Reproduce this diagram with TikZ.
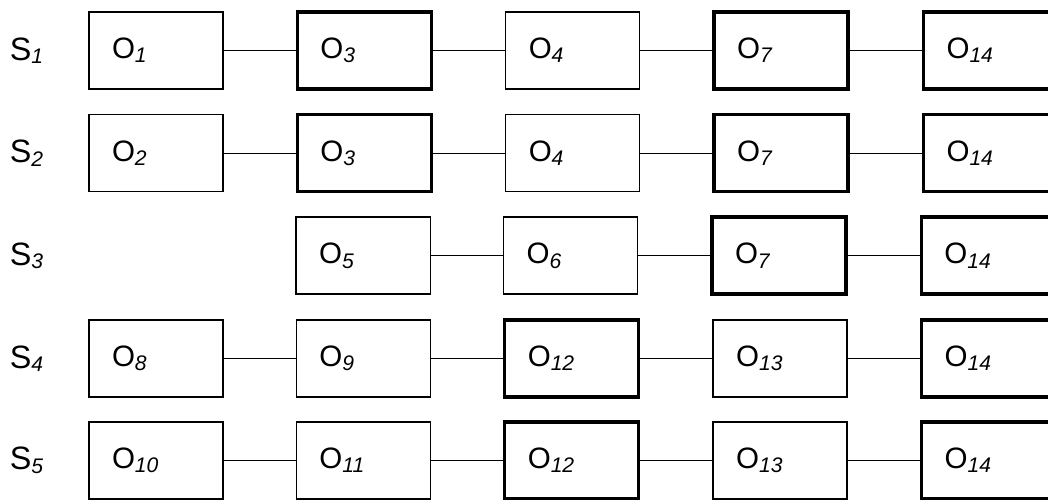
\documentclass[tikz,border=0pt]{standalone}
\usepackage{fontspec}
\setmainfont{Liberation Sans}
\usepackage{tikz}
\usetikzlibrary{positioning}
\newcommand{\op}[1]{O\raisebox{-3.2pt}{\fontsize{15}{17}\selectfont\itshape #1}}
\newcommand{\seqlab}[1]{S\raisebox{-2.4pt}{\fontsize{15}{17}\selectfont\itshape #1}}

\begin{document}
\begin{tikzpicture}[
    opbox/.style={draw,line width=1pt,minimum height=1.925cm,text width=2.2cm,
      inner xsep=0.575cm,align=left,font=\fontsize{21}{24}\selectfont},
    keybox/.style={opbox,line width=2.4pt},
    seqname/.style={inner sep=0pt,font=\fontsize{23}{25}\selectfont},
    link/.style={line width=0.9pt}
  ]
    \clip (0,0) rectangle (26.2,-12.5);

    % sequence labels
    \node[seqname] (s1) at (0.66,-1.26) {\seqlab{1}};
    \node[seqname] (s2) at (0.66,-3.83) {\seqlab{2}};
    \node[seqname] (s3) at (0.66,-6.39) {\seqlab{3}};
    \node[seqname] (s4) at (0.66,-8.96) {\seqlab{4}};
    \node[seqname] (s5) at (0.66,-11.51) {\seqlab{5}};

    % row 1
    \node[opbox] (r1c1) at (3.9,-1.26) {\op{1}};
    \node[keybox,right=1.8cm of r1c1] (r1c2) {\op{3}};
    \node[opbox,right=1.8cm of r1c2] (r1c3) {\op{4}};
    \node[keybox,right=1.8cm of r1c3] (r1c4) {\op{7}};
    \node[keybox,right=1.8cm of r1c4] (r1c5) {\op{14}};

    % row 2
    \node[opbox] (r2c1) at (3.9,-3.83) {\op{2}};
    \node[keybox,right=1.8cm of r2c1] (r2c2) {\op{3}};
    \node[opbox,right=1.8cm of r2c2] (r2c3) {\op{4}};
    \node[keybox,right=1.8cm of r2c3] (r2c4) {\op{7}};
    \node[keybox,right=1.8cm of r2c4] (r2c5) {\op{14}};

    % row 3
    \node[opbox] (r3c2) at (9.08,-6.39) {\op{5}};
    \node[opbox,right=1.8cm of r3c2] (r3c3) {\op{6}};
    \node[keybox,right=1.8cm of r3c3] (r3c4) {\op{7}};
    \node[keybox,right=1.8cm of r3c4] (r3c5) {\op{14}};

    % row 4
    \node[opbox] (r4c1) at (3.9,-8.96) {\op{8}};
    \node[opbox,right=1.8cm of r4c1] (r4c2) {\op{9}};
    \node[keybox,right=1.8cm of r4c2] (r4c3) {\op{12}};
    \node[opbox,right=1.8cm of r4c3] (r4c4) {\op{13}};
    \node[keybox,right=1.8cm of r4c4] (r4c5) {\op{14}};

    % row 5
    \node[opbox] (r5c1) at (3.9,-11.51) {\op{10}};
    \node[opbox,right=1.8cm of r5c1] (r5c2) {\op{11}};
    \node[keybox,right=1.8cm of r5c2] (r5c3) {\op{12}};
    \node[opbox,right=1.8cm of r5c3] (r5c4) {\op{13}};
    \node[keybox,right=1.8cm of r5c4] (r5c5) {\op{14}};

    % links
    \draw[link] (r1c1) -- (r1c2) (r1c2) -- (r1c3) (r1c3) -- (r1c4) (r1c4) -- (r1c5);
    \draw[link] (r2c1) -- (r2c2) (r2c2) -- (r2c3) (r2c3) -- (r2c4) (r2c4) -- (r2c5);
    \draw[link] (r3c2) -- (r3c3) (r3c3) -- (r3c4) (r3c4) -- (r3c5);
    \draw[link] (r4c1) -- (r4c2) (r4c2) -- (r4c3) (r4c3) -- (r4c4) (r4c4) -- (r4c5);
    \draw[link] (r5c1) -- (r5c2) (r5c2) -- (r5c3) (r5c3) -- (r5c4) (r5c4) -- (r5c5);
  \end{tikzpicture}
\end{document}
